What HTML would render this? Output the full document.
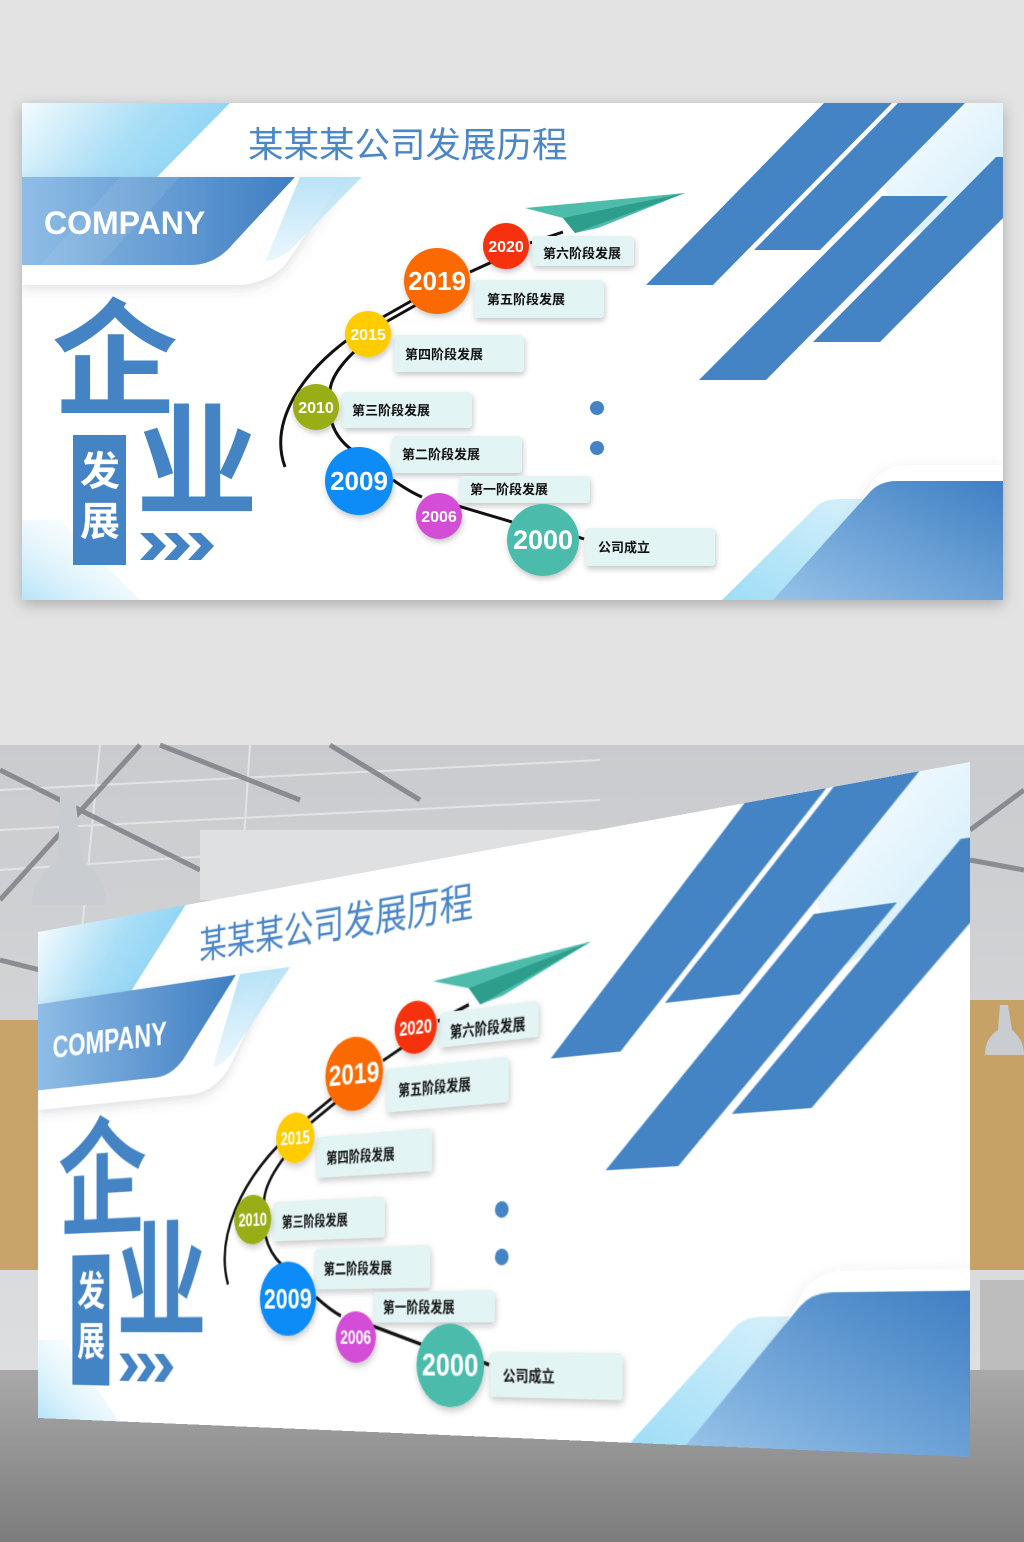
<!DOCTYPE html>
<html><head><meta charset="utf-8"><style>
html,body{margin:0;padding:0;width:1024px;height:1542px;overflow:hidden;background:#e3e3e3;}
.wrap{position:absolute;left:0;top:0;width:1024px;height:1542px;}
.b{position:absolute;width:981px;height:497px;}
svg text{font-family:"Liberation Sans","Noto Sans CJK SC",sans-serif;}
</style></head><body>
<div class="wrap">
<svg width="1024" height="1542" style="position:absolute;left:0;top:0">
<defs>
<linearGradient id="ceil" x1="0" y1="0" x2="0" y2="1"><stop offset="0" stop-color="#c9cbce"/><stop offset="1" stop-color="#e2e3e4"/></linearGradient>
<linearGradient id="floor" x1="0" y1="0" x2="0" y2="1"><stop offset="0" stop-color="#a9a9a9"/><stop offset="1" stop-color="#7c7c7c"/></linearGradient>
</defs>
<rect x="0" y="745" width="1024" height="797" fill="url(#ceil)"/>
<g stroke="#e8e9ea" stroke-width="2" opacity="0.8">
<line x1="0" y1="790" x2="600" y2="760"/><line x1="0" y1="830" x2="600" y2="800"/><line x1="0" y1="870" x2="300" y2="850"/>
<line x1="100" y1="745" x2="80" y2="950"/><line x1="250" y1="745" x2="240" y2="900"/>
</g>
<g stroke="#6d7075" stroke-width="5" opacity="0.7">
<line x1="0" y1="770" x2="200" y2="870"/><line x1="0" y1="900" x2="140" y2="745"/><line x1="160" y1="745" x2="300" y2="800"/><line x1="330" y1="745" x2="420" y2="800"/><line x1="0" y1="960" x2="60" y2="975"/><line x1="970" y1="830" x2="1024" y2="790"/><line x1="970" y1="860" x2="1024" y2="870"/>
<line x1="0" y1="1080" x2="38" y2="1070"/><line x1="0" y1="1130" x2="38" y2="1140"/>
</g>
<rect x="200" y="830" width="560" height="70" fill="#dfe0e1"/>
<rect x="0" y="1020" width="40" height="250" fill="#c9a46a"/>
<rect x="968" y="1000" width="56" height="270" fill="#c7a266"/>
<rect x="980" y="1280" width="44" height="100" fill="#bdbdbd"/>
<rect x="0" y="1370" width="1024" height="172" fill="url(#floor)"/>
<path d="M60 795 L75 795 L82 860 Q108 880 105 905 L32 905 Q32 878 58 860 Z" fill="#c9ccd0"/>
<path d="M1000 1005 L1008 1005 L1012 1030 Q1024 1040 1024 1055 L985 1055 Q985 1038 998 1030Z" fill="#c9ccd0"/>
</svg>

<div class="b" style="left:22px;top:103px;box-shadow:0 4px 14px rgba(0,0,0,0.25)">
<svg width="981" height="497" viewBox="22 103 981 497">
<defs>
<linearGradient id="tl" x1="0" y1="0" x2="1" y2="0.3"><stop offset="0" stop-color="#f3fbfe"/><stop offset="0.6" stop-color="#a9def6"/><stop offset="1" stop-color="#8dd4f5"/></linearGradient>
<linearGradient id="comp" x1="0" y1="0" x2="1" y2="0"><stop offset="0" stop-color="#8fbde6"/><stop offset="1" stop-color="#3f7ec2"/></linearGradient>
<linearGradient id="tr" x1="0" y1="0" x2="1" y2="1"><stop offset="0" stop-color="#ffffff"/><stop offset="1" stop-color="#cdebfa"/></linearGradient>
<linearGradient id="br" x1="0" y1="1" x2="1" y2="0"><stop offset="0" stop-color="#96c2e8"/><stop offset="1" stop-color="#3f7fc3"/></linearGradient>
<linearGradient id="lb" x1="0" y1="1" x2="1" y2="0"><stop offset="0" stop-color="#8ed7f5"/><stop offset="1" stop-color="#d6f0fb"/></linearGradient>
<linearGradient id="bl" x1="0" y1="1" x2="1" y2="0"><stop offset="0" stop-color="#b6e4f8"/><stop offset="1" stop-color="#ffffff" stop-opacity="0"/></linearGradient>
<linearGradient id="st" x1="0" y1="0" x2="0" y2="1"><stop offset="0" stop-color="#a9dcf5"/><stop offset="1" stop-color="#e6f5fc"/></linearGradient>
<filter id="sh" x="-20%" y="-20%" width="140%" height="160%"><feDropShadow dx="1" dy="3" stdDeviation="3" flood-color="#000" flood-opacity="0.22"/></filter>
<filter id="sh2" x="-20%" y="-20%" width="140%" height="160%"><feDropShadow dx="0" dy="4" stdDeviation="6" flood-color="#556" flood-opacity="0.18"/></filter>
</defs>
<g id="content">
<rect x="22" y="103" width="981" height="497" fill="#fff"/>
<polygon points="860,103 1003,103 1003,200 900,240" fill="url(#tr)"/>
<polygon points="22,520 60,520 140,600 22,600" fill="url(#bl)"/>
<polygon points="22,103 230,103 157,177 22,177" fill="url(#tl)"/>
<path d="M22,177 L22,285 L235,285 Q265,285 285,265 L345,177 Z" fill="#fff" filter="url(#sh2)"/>
<path d="M300,177 L362,177 L300,240 Q285,258 265,262 Z" fill="url(#st)" opacity="0.8"/>
<path d="M22,177 L295,177 L232,245 Q215,265 190,265 L22,265 Z" fill="url(#comp)"/>
<polygon points="120,177 180,177 100,265 40,265" fill="#fff" opacity="0.08"/>
<text x="44" y="234" font-size="32" font-weight="bold" fill="#fff">COMPANY</text>
<text x="248" y="157" font-size="35.5" fill="#4a86c8">某某某公司发展历程</text>
<g fill="#4584c4">
<polygon points="824,103 892,103 713,285 646,285"/>
<polygon points="898,103 965,103 820,250 754,250"/>
<polygon points="882,196 948,196 766,380 699,380"/>
<polygon points="996,157 1003,157 1003,218 880,342 813,342"/>
</g>
<path d="M722,600 L818,505 Q826,499 840,499 L900,499 L830,600Z" fill="url(#lb)" opacity="0.85"/>
<path d="M800,600 L875,478 Q888,465 910,465 L1003,465 L1003,600Z" fill="#fff" filter="url(#sh2)"/>
<path d="M773,600 L870,492 Q880,481 897,481 L1003,481 L1003,600Z" fill="url(#br)"/>
<text x="52" y="405" font-size="126" font-weight="bold" fill="#4584c4" font-family="Liberation Serif,Noto Serif CJK SC,serif">企</text>
<text x="136" y="506" font-size="122" font-weight="bold" fill="#4584c4" font-family="Liberation Serif,Noto Serif CJK SC,serif">业</text>
<rect x="73" y="435" width="53" height="130" fill="#4584c4"/>
<text x="80" y="485" font-size="40" font-weight="bold" fill="#fff" font-family="Liberation Serif,Noto Serif CJK SC,serif">发</text>
<text x="80" y="535" font-size="40" font-weight="bold" fill="#fff" font-family="Liberation Serif,Noto Serif CJK SC,serif">展</text>
<g fill="#4584c4">
<polygon points="140,533 153,533 166,546 153,560 140,560 153,546"/>
<polygon points="164,533 177,533 190,546 177,560 164,560 177,546"/>
<polygon points="188,533 201,533 214,546 201,560 188,560 201,546"/>
</g>
<polygon points="525,208 685,193 598,228 575,233 563,218" fill="#4dbcaa"/>
<polygon points="563,218 685,193 575,233" fill="#2e9e8c"/>
<g fill="none" stroke="#111" stroke-width="3">
<path d="M530,243 L563,232"/><path d="M470,272 L492,262"/>
<path d="M383,317 L413,300"/><path d="M386,322 L416,305"/>
<path d="M350,338 C305,370 268,420 285,467"/>
<path d="M356,350 C340,365 330,380 330,392"/>
<path d="M332,423 C336,436 344,444 352,450"/>
<path d="M393,480 Q410,492 422,497"/><path d="M458,506 L512,522"/><path d="M578,537 L584,539"/>
</g>
<g fill="#e2f4f3" filter="url(#sh)">
<rect x="532" y="236" width="102" height="30" rx="4"/><rect x="474" y="280" width="130" height="38" rx="4"/>
<rect x="394" y="335" width="130" height="37" rx="4"/><rect x="342" y="392" width="130" height="36" rx="4"/>
<rect x="392" y="436" width="130" height="37" rx="4"/><rect x="460" y="476" width="130" height="27" rx="4"/>
<rect x="585" y="528" width="130" height="38" rx="4"/>
</g>
<g font-size="13" font-weight="bold" fill="#111">
<text x="543" y="258">第六阶段发展</text><text x="487" y="304">第五阶段发展</text>
<text x="405" y="359">第四阶段发展</text><text x="352" y="415">第三阶段发展</text>
<text x="402" y="459">第二阶段发展</text><text x="470" y="494">第一阶段发展</text>
<text x="598" y="552">公司成立</text>
</g>
<g filter="url(#sh)">
<circle cx="506" cy="246" r="23" fill="#f5300a"/><circle cx="437" cy="281" r="33" fill="#fa6a02"/>
<circle cx="368" cy="334" r="23" fill="#ffcc00"/><circle cx="316" cy="407" r="23" fill="#98ad12"/>
<circle cx="359" cy="481" r="34" fill="#0d8bf6"/><circle cx="439" cy="516" r="23" fill="#d34ed6"/>
<circle cx="543" cy="540" r="36" fill="#4cbcac"/>
</g>
<g fill="#fff" font-weight="bold" text-anchor="middle">
<text x="506" y="252" font-size="16">2020</text><text x="437" y="290" font-size="26">2019</text>
<text x="368" y="340" font-size="16">2015</text><text x="316" y="413" font-size="16">2010</text>
<text x="359" y="490" font-size="26">2009</text><text x="439" y="522" font-size="16">2006</text>
<text x="543" y="549" font-size="27">2000</text>
</g>
<circle cx="597" cy="408" r="7" fill="#4584c4"/><circle cx="597" cy="448" r="7" fill="#4584c4"/>
</g>
</svg>
</div>

<div class="b" style="left:0;top:0;transform-origin:0 0;transform:matrix3d(0.65270,-0.40688,0,-0.00030655,0,0.97787,0,0,0,0,1,0,38,932,0,1);">
<svg width="981" height="497" viewBox="22 103 981 497">
<rect x="22" y="103" width="981" height="497" fill="#fff"/>
<polygon points="860,103 1003,103 1003,200 900,240" fill="url(#tr)"/>
<polygon points="22,520 60,520 140,600 22,600" fill="url(#bl)"/>
<polygon points="22,103 230,103 157,177 22,177" fill="url(#tl)"/>
<path d="M22,177 L22,285 L235,285 Q265,285 285,265 L345,177 Z" fill="#fff" filter="url(#sh2)"/>
<path d="M300,177 L362,177 L300,240 Q285,258 265,262 Z" fill="url(#st)" opacity="0.8"/>
<path d="M22,177 L295,177 L232,245 Q215,265 190,265 L22,265 Z" fill="url(#comp)"/>
<text x="44" y="234" font-size="32" font-weight="bold" fill="#fff">COMPANY</text>
<text x="248" y="157" font-size="35.5" fill="#4a86c8">某某某公司发展历程</text>
<g fill="#4584c4">
<polygon points="824,103 892,103 713,285 646,285"/>
<polygon points="898,103 965,103 820,250 754,250"/>
<polygon points="882,196 948,196 766,380 699,380"/>
<polygon points="996,157 1003,157 1003,218 880,342 813,342"/>
</g>
<path d="M722,600 L818,505 Q826,499 840,499 L900,499 L830,600Z" fill="url(#lb)" opacity="0.85"/>
<path d="M800,600 L875,478 Q888,465 910,465 L1003,465 L1003,600Z" fill="#fff" filter="url(#sh2)"/>
<path d="M773,600 L870,492 Q880,481 897,481 L1003,481 L1003,600Z" fill="url(#br)"/>
<text x="52" y="405" font-size="126" font-weight="bold" fill="#4584c4" font-family="Liberation Serif,Noto Serif CJK SC,serif">企</text>
<text x="136" y="506" font-size="122" font-weight="bold" fill="#4584c4" font-family="Liberation Serif,Noto Serif CJK SC,serif">业</text>
<rect x="73" y="435" width="53" height="130" fill="#4584c4"/>
<text x="80" y="485" font-size="40" font-weight="bold" fill="#fff" font-family="Liberation Serif,Noto Serif CJK SC,serif">发</text>
<text x="80" y="535" font-size="40" font-weight="bold" fill="#fff" font-family="Liberation Serif,Noto Serif CJK SC,serif">展</text>
<g fill="#4584c4">
<polygon points="140,533 153,533 166,546 153,560 140,560 153,546"/>
<polygon points="164,533 177,533 190,546 177,560 164,560 177,546"/>
<polygon points="188,533 201,533 214,546 201,560 188,560 201,546"/>
</g>
<polygon points="525,208 685,193 598,228 575,233 563,218" fill="#4dbcaa"/>
<polygon points="563,218 685,193 575,233" fill="#2e9e8c"/>
<g fill="none" stroke="#111" stroke-width="3">
<path d="M530,243 L563,232"/><path d="M470,272 L492,262"/>
<path d="M383,317 L413,300"/><path d="M386,322 L416,305"/>
<path d="M350,338 C305,370 268,420 285,467"/>
<path d="M356,350 C340,365 330,380 330,392"/>
<path d="M332,423 C336,436 344,444 352,450"/>
<path d="M393,480 Q410,492 422,497"/><path d="M458,506 L512,522"/><path d="M578,537 L584,539"/>
</g>
<g fill="#e2f4f3" filter="url(#sh)">
<rect x="532" y="236" width="102" height="30" rx="4"/><rect x="474" y="280" width="130" height="38" rx="4"/>
<rect x="394" y="335" width="130" height="37" rx="4"/><rect x="342" y="392" width="130" height="36" rx="4"/>
<rect x="392" y="436" width="130" height="37" rx="4"/><rect x="460" y="476" width="130" height="27" rx="4"/>
<rect x="585" y="528" width="130" height="38" rx="4"/>
</g>
<g font-size="13" font-weight="bold" fill="#111">
<text x="543" y="258">第六阶段发展</text><text x="487" y="304">第五阶段发展</text>
<text x="405" y="359">第四阶段发展</text><text x="352" y="415">第三阶段发展</text>
<text x="402" y="459">第二阶段发展</text><text x="470" y="494">第一阶段发展</text>
<text x="598" y="552">公司成立</text>
</g>
<g filter="url(#sh)">
<circle cx="506" cy="246" r="23" fill="#f5300a"/><circle cx="437" cy="281" r="33" fill="#fa6a02"/>
<circle cx="368" cy="334" r="23" fill="#ffcc00"/><circle cx="316" cy="407" r="23" fill="#98ad12"/>
<circle cx="359" cy="481" r="34" fill="#0d8bf6"/><circle cx="439" cy="516" r="23" fill="#d34ed6"/>
<circle cx="543" cy="540" r="36" fill="#4cbcac"/>
</g>
<g fill="#fff" font-weight="bold" text-anchor="middle">
<text x="506" y="252" font-size="16">2020</text><text x="437" y="290" font-size="26">2019</text>
<text x="368" y="340" font-size="16">2015</text><text x="316" y="413" font-size="16">2010</text>
<text x="359" y="490" font-size="26">2009</text><text x="439" y="522" font-size="16">2006</text>
<text x="543" y="549" font-size="27">2000</text>
</g>
<circle cx="597" cy="408" r="7" fill="#4584c4"/><circle cx="597" cy="448" r="7" fill="#4584c4"/>
</svg>
</div>
</div>
</body></html>
